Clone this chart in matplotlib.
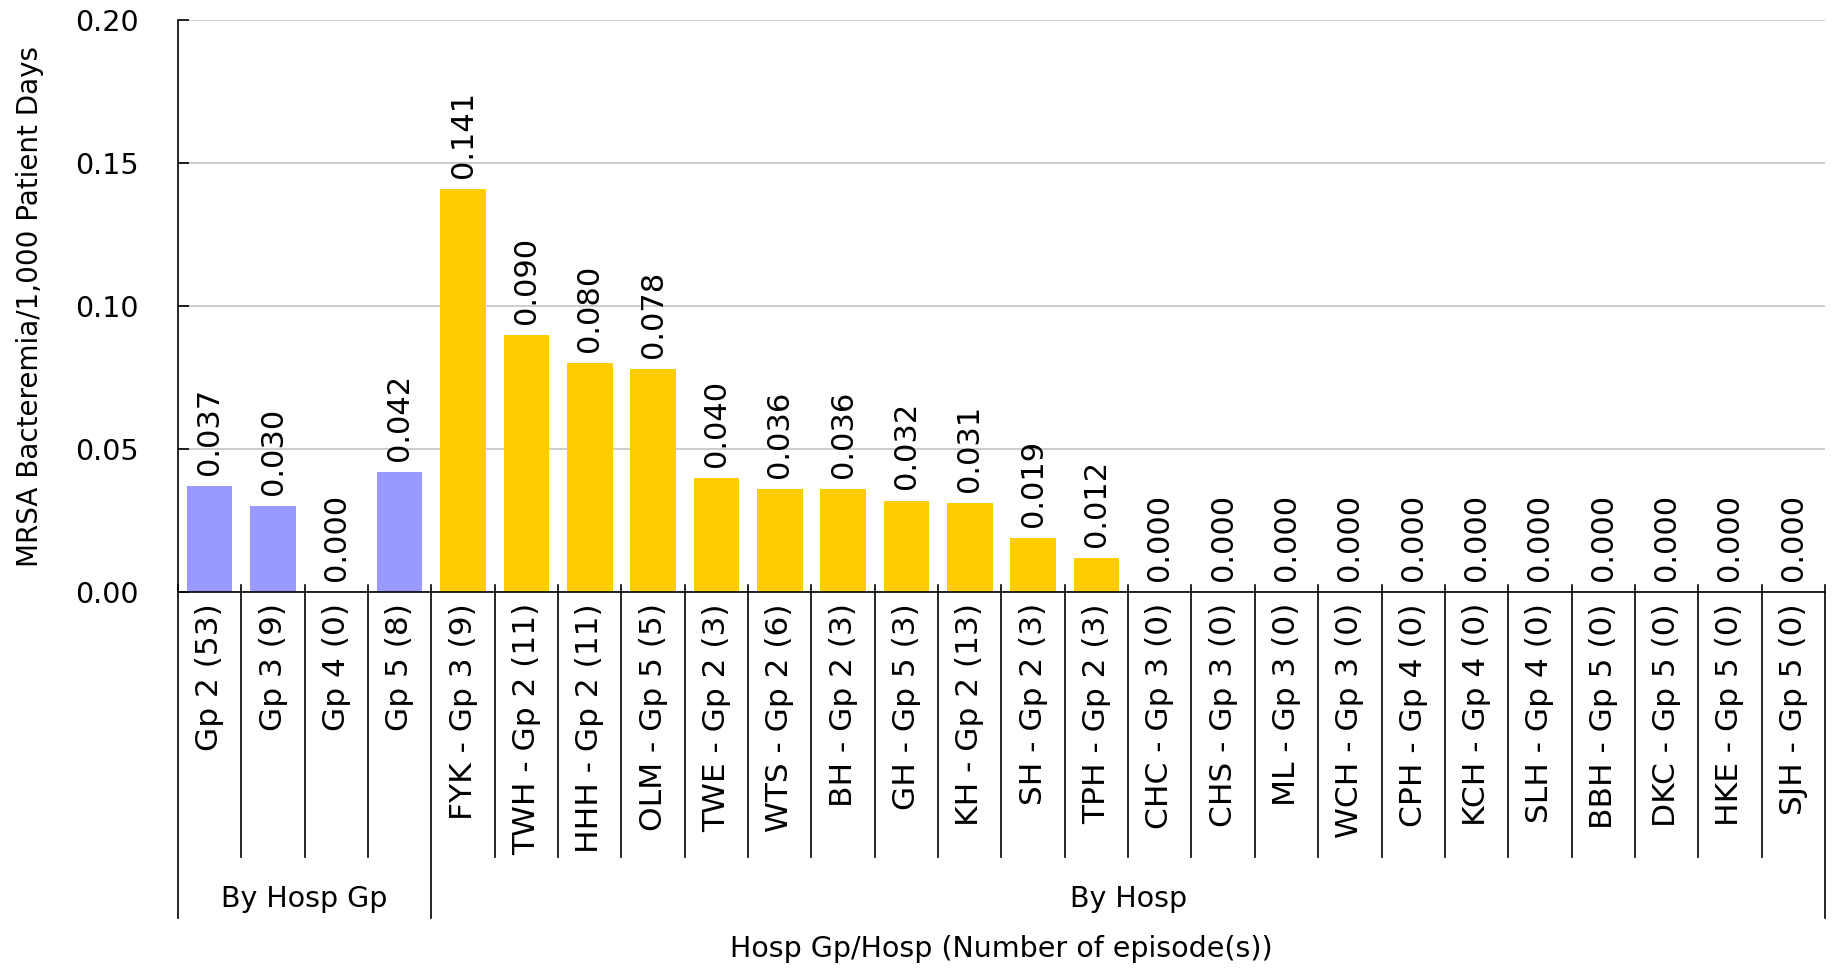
#!/usr/bin/env python

import matplotlib.pyplot as plt
import matplotlib.transforms as mtransforms
import numpy as np

# Categories: hospital groups first, then individual hospitals
group_labels = ['Gp 2 (53)', 'Gp 3 (9)', 'Gp 4 (0)', 'Gp 5 (8)']
group_values = [0.037, 0.030, 0.000, 0.042]

hosp_labels = [
    'FYK - Gp 3 (9)', 'TWH - Gp 2 (11)', 'HHH - Gp 2 (11)', 'OLM - Gp 5 (5)',
    'TWE - Gp 2 (3)', 'WTS - Gp 2 (6)', 'BH - Gp 2 (3)', 'GH - Gp 5 (3)',
    'KH - Gp 2 (13)', 'SH - Gp 2 (3)', 'TPH - Gp 2 (3)', 'CHC - Gp 3 (0)',
    'CHS - Gp 3 (0)', 'ML - Gp 3 (0)', 'WCH - Gp 3 (0)', 'CPH - Gp 4 (0)',
    'KCH - Gp 4 (0)', 'SLH - Gp 4 (0)', 'BBH - Gp 5 (0)', 'DKC - Gp 5 (0)',
    'HKE - Gp 5 (0)', 'SJH - Gp 5 (0)'
]
hosp_values = [
    0.141, 0.090, 0.080, 0.078, 0.040, 0.036, 0.036, 0.032, 0.031, 0.019,
    0.012, 0.000, 0.000, 0.000, 0.000, 0.000, 0.000, 0.000, 0.000, 0.000,
    0.000, 0.000
]

section_names = ['By Hosp Gp', 'By Hosp']
y_ticks = [0.00, 0.05, 0.10, 0.15, 0.20]


def main():
    labels = group_labels + hosp_labels
    values = group_values + hosp_values
    colors = ['#9999FF'] * len(group_values) + ['#FFCC00'] * len(hosp_values)
    x = np.arange(len(labels))
    n = len(labels)

    fig = plt.figure(figsize=(18.33, 9.73), dpi=100)
    ax = fig.add_axes([0.0971, 0.3916, 0.8985, 0.5874])

    ax.bar(x, values, width=0.72, color=colors, zorder=2)
    for xi, v in zip(x, values):
        ax.annotate('{:.3f}'.format(v), (xi, v), xytext=(0, 8),
                    textcoords='offset points', rotation=90,
                    ha='center', va='bottom', fontsize=22)

    ax.set_xlim(-0.5, n - 0.5)
    ax.set_ylim(0, 0.2)
    ax.set_yticks(y_ticks)
    ax.set_yticklabels(['{:.2f}'.format(t) for t in y_ticks], fontsize=20.5)
    ax.tick_params(axis='y', direction='in', length=8, width=1.2, pad=28)
    ax.yaxis.grid(True, color='#C8C8C8', linewidth=1.3, zorder=0)
    ax.set_axisbelow(True)

    ax.set_xticks(x)
    ax.set_xticklabels(labels, rotation=90, fontsize=22.5)
    ax.tick_params(axis='x', length=0, pad=8)

    for side in ['top', 'right']:
        ax.spines[side].set_visible(False)
    ax.spines['left'].set_linewidth(1.2)
    ax.spines['bottom'].set_linewidth(1.2)

    # Category separators and section separators below the axis
    trans = mtransforms.blended_transform_factory(ax.transData, ax.transAxes)
    sections = [0, len(group_values), n]
    for i in range(n + 1):
        xs = i - 0.5
        if i in sections:
            ax.plot([xs, xs], [0.012, -0.570], color='black', lw=1.2,
                    transform=trans, clip_on=False)
        else:
            ax.plot([xs, xs], [0.012, -0.463], color='black', lw=1.2,
                    transform=trans, clip_on=False)
    for k, name in enumerate(section_names):
        xc = (sections[k] + sections[k + 1]) / 2 - 0.5
        ax.text(xc, -0.537, name, transform=trans, ha='center',
                va='center', fontsize=20.5)

    ax.text(0.5, -0.624, 'Hosp Gp/Hosp (Number of episode(s))',
            transform=ax.transAxes, ha='center', va='center', fontsize=20.5)
    ax.set_ylabel('MRSA Bacteremia/1,000 Patient Days', fontsize=20,
                  labelpad=23)

    plt.savefig('out.png', dpi=100)


if __name__ == '__main__':
    main()
